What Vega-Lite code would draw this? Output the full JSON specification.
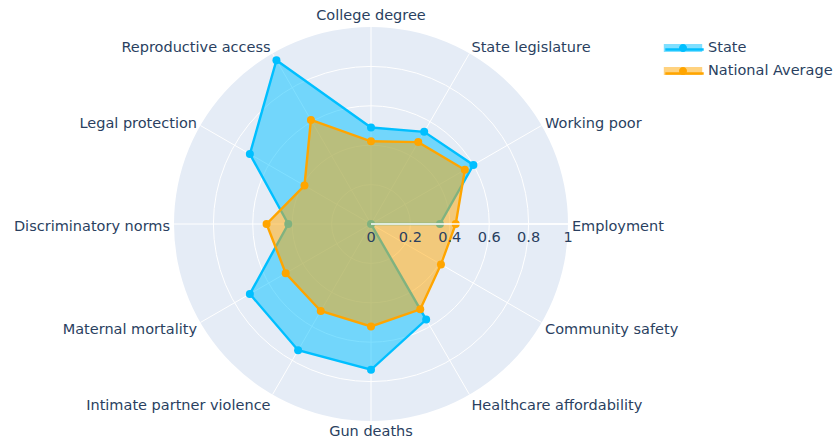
{
  "$schema": "https://vega.github.io/schema/vega-lite/v6.json",
  "width": 438,
  "height": 438,
  "autosize": {"type": "none"},
  "padding": {"left": 152, "top": 5, "right": 245, "bottom": 0},
  "background": "white",
  "config": {"view": {"stroke": null}, "font": "DejaVu Sans"},
  "datasets": {
    "axes": [
      {"axis": "Employment"},
      {"axis": "Working poor"},
      {"axis": "State legislature"},
      {"axis": "College degree"},
      {"axis": "Reproductive access"},
      {"axis": "Legal protection"},
      {"axis": "Discriminatory norms"},
      {"axis": "Maternal mortality"},
      {"axis": "Intimate partner violence"},
      {"axis": "Gun deaths"},
      {"axis": "Healthcare affordability"},
      {"axis": "Community safety"}
    ],
    "scores": [
      {"series": "State", "axis": "Employment", "value": 0.35},
      {"series": "State", "axis": "Working poor", "value": 0.60},
      {"series": "State", "axis": "State legislature", "value": 0.54},
      {"series": "State", "axis": "College degree", "value": 0.49},
      {"series": "State", "axis": "Reproductive access", "value": 0.96},
      {"series": "State", "axis": "Legal protection", "value": 0.71},
      {"series": "State", "axis": "Discriminatory norms", "value": 0.42},
      {"series": "State", "axis": "Maternal mortality", "value": 0.71},
      {"series": "State", "axis": "Intimate partner violence", "value": 0.74},
      {"series": "State", "axis": "Gun deaths", "value": 0.74},
      {"series": "State", "axis": "Healthcare affordability", "value": 0.56},
      {"series": "State", "axis": "Community safety", "value": 0},
      {"series": "National Average", "axis": "Employment", "value": 0.43},
      {"series": "National Average", "axis": "Working poor", "value": 0.55},
      {"series": "National Average", "axis": "State legislature", "value": 0.48},
      {"series": "National Average", "axis": "College degree", "value": 0.42},
      {"series": "National Average", "axis": "Reproductive access", "value": 0.61},
      {"series": "National Average", "axis": "Legal protection", "value": 0.39},
      {"series": "National Average", "axis": "Discriminatory norms", "value": 0.53},
      {"series": "National Average", "axis": "Maternal mortality", "value": 0.50},
      {"series": "National Average", "axis": "Intimate partner violence", "value": 0.51},
      {"series": "National Average", "axis": "Gun deaths", "value": 0.52},
      {"series": "National Average", "axis": "Healthcare affordability", "value": 0.50},
      {"series": "National Average", "axis": "Community safety", "value": 0.41}
    ],
    "disc": [{"r": 1}],
    "grid": [{"r": 0.2}, {"r": 0.4}, {"r": 0.6}, {"r": 0.8}],
    "rticks": [
      {"t": 0, "label": "0"},
      {"t": 0.2, "label": "0.2"},
      {"t": 0.4, "label": "0.4"},
      {"t": 0.6, "label": "0.6"},
      {"t": 0.8, "label": "0.8"},
      {"t": 1, "label": "1"}
    ]
  },
  "layer": [
    {
      "data": {"name": "disc"},
      "transform": [{"calculate": "1", "as": "full"}],
      "mark": {"type": "arc", "fill": "#E5ECF6"},
      "encoding": {
        "theta": {"field": "full", "type": "quantitative", "stack": null, "scale": {"type": "linear", "domain": [0, 1], "range": [0, 6.2832], "zero": true, "nice": false}, "legend": null},
        "radius": {"field": "r", "type": "quantitative", "scale": {"type": "linear", "domain": [0, 1], "range": [0, 197], "zero": true, "nice": false}, "legend": null}
      }
    },
    {
      "data": {"name": "grid"},
      "transform": [{"calculate": "1", "as": "full"}],
      "mark": {"type": "arc", "filled": false, "stroke": "white", "strokeWidth": 1},
      "encoding": {
        "theta": {"field": "full", "type": "quantitative", "stack": null, "scale": {"type": "linear", "domain": [0, 1], "range": [0, 6.2832], "zero": true, "nice": false}, "legend": null},
        "radius": {"field": "r", "type": "quantitative", "scale": {"type": "linear", "domain": [0, 1], "range": [0, 197], "zero": true, "nice": false}, "legend": null}
      }
    },
    {
      "data": {"name": "axes"},
      "transform": [
        {"window": [{"op": "row_number", "as": "idx"}]},
        {"calculate": "(datum.idx - 1) * PI / 6", "as": "ang"},
        {"calculate": "cos(datum.ang)", "as": "cx"},
        {"calculate": "sin(datum.ang)", "as": "cy"},
        {"calculate": "0", "as": "o"}
      ],
      "mark": {"type": "rule", "color": "white", "strokeWidth": 1},
      "encoding": {
        "x": {"field": "o", "type": "quantitative", "scale": {"domain": [-1.11168, 1.11168], "nice": false, "zero": false}, "axis": null},
        "y": {"field": "o", "type": "quantitative", "scale": {"domain": [-1.11168, 1.11168], "nice": false, "zero": false}, "axis": null},
        "x2": {"field": "cx"},
        "y2": {"field": "cy"}
      }
    },
    {
      "data": {"name": "scores"},
      "transform": [
        {"filter": "datum.series == 'State'"},
        {"window": [{"op": "row_number", "as": "idx"}]},
        {"calculate": "(datum.idx - 1) * PI / 6", "as": "ang"},
        {"calculate": "datum.value * cos(datum.ang)", "as": "px"},
        {"calculate": "datum.value * sin(datum.ang)", "as": "py"}
      ],
      "mark": {"type": "line", "interpolate": "linear-closed", "strokeWidth": 2.4, "fillOpacity": 0.5},
      "encoding": {
        "x": {"field": "px", "type": "quantitative", "scale": {"domain": [-1.11168, 1.11168], "nice": false, "zero": false}, "axis": null},
        "y": {"field": "py", "type": "quantitative", "scale": {"domain": [-1.11168, 1.11168], "nice": false, "zero": false}, "axis": null},
        "order": {"field": "idx", "type": "quantitative"},
        "stroke": {"field": "series", "type": "nominal", "scale": {"domain": ["State", "National Average", "_s"], "range": ["#00BFFF", "#FFA500", "#000000"]},
          "legend": {"title": null, "values": ["State", "National Average"], "orient": "none", "legendX": 523, "legendY": 35, "padding": 0, "symbolType": "M-2.4,0H2.4", "symbolSize": 256, "symbolStrokeWidth": 2.4, "labelExpr": "''", "labelFont": "DejaVu Sans", "labelFontSize": 14.5, "labelOffset": 17, "rowPadding": 8}},
        "fill": {"field": "series", "type": "nominal", "scale": {"domain": ["State", "National Average"], "range": ["#00BFFF", "#FFA500"]},
          "legend": {"title": null, "values": ["State", "National Average"], "orient": "none", "legendX": 523, "legendY": 35, "padding": 0, "symbolType": "M-2.4,-0.5H2.4V0.5H-2.4Z", "symbolSize": 256, "symbolOpacity": 0.5, "symbolStrokeWidth": 0, "labelFont": "DejaVu Sans", "labelFontSize": 14.5, "labelColor": "#2a3f5f", "labelOffset": 17, "rowPadding": 8}}
      }
    },
    {
      "data": {"name": "scores"},
      "transform": [
        {"filter": "datum.series == 'State'"},
        {"window": [{"op": "row_number", "as": "idx"}]},
        {"calculate": "(datum.idx - 1) * PI / 6", "as": "ang"},
        {"calculate": "datum.value * cos(datum.ang)", "as": "px"},
        {"calculate": "datum.value * sin(datum.ang)", "as": "py"}
      ],
      "mark": {"type": "point", "filled": true, "size": 64, "opacity": 1},
      "encoding": {
        "x": {"field": "px", "type": "quantitative", "scale": {"domain": [-1.11168, 1.11168], "nice": false, "zero": false}, "axis": null},
        "y": {"field": "py", "type": "quantitative", "scale": {"domain": [-1.11168, 1.11168], "nice": false, "zero": false}, "axis": null},
        "color": {"field": "series", "type": "nominal", "scale": {"domain": ["State", "National Average", "_s", "_c"], "range": ["#00BFFF", "#FFA500", "#000000", "#000000"]},
          "legend": {"title": null, "values": ["State", "National Average"], "orient": "none", "legendX": 523, "legendY": 35, "padding": 0, "symbolType": "M-0.5,0A0.5,0.5,0,1,1,0.5,0A0.5,0.5,0,1,1,-0.5,0Z", "symbolSize": 256, "symbolOpacity": 1, "symbolStrokeWidth": 0, "labelExpr": "''", "labelFont": "DejaVu Sans", "labelFontSize": 14.5, "labelOffset": 17, "rowPadding": 8}}
      }
    },
    {
      "data": {"name": "scores"},
      "transform": [
        {"filter": "datum.series == 'National Average'"},
        {"window": [{"op": "row_number", "as": "idx"}]},
        {"calculate": "(datum.idx - 1) * PI / 6", "as": "ang"},
        {"calculate": "datum.value * cos(datum.ang)", "as": "px"},
        {"calculate": "datum.value * sin(datum.ang)", "as": "py"}
      ],
      "mark": {"type": "line", "interpolate": "linear-closed", "strokeWidth": 2.4, "fillOpacity": 0.5},
      "encoding": {
        "x": {"field": "px", "type": "quantitative", "scale": {"domain": [-1.11168, 1.11168], "nice": false, "zero": false}, "axis": null},
        "y": {"field": "py", "type": "quantitative", "scale": {"domain": [-1.11168, 1.11168], "nice": false, "zero": false}, "axis": null},
        "order": {"field": "idx", "type": "quantitative"},
        "stroke": {"field": "series", "type": "nominal"},
        "fill": {"field": "series", "type": "nominal"}
      }
    },
    {
      "data": {"name": "scores"},
      "transform": [
        {"filter": "datum.series == 'National Average'"},
        {"window": [{"op": "row_number", "as": "idx"}]},
        {"calculate": "(datum.idx - 1) * PI / 6", "as": "ang"},
        {"calculate": "datum.value * cos(datum.ang)", "as": "px"},
        {"calculate": "datum.value * sin(datum.ang)", "as": "py"}
      ],
      "mark": {"type": "point", "filled": true, "size": 64, "opacity": 1},
      "encoding": {
        "x": {"field": "px", "type": "quantitative", "scale": {"domain": [-1.11168, 1.11168], "nice": false, "zero": false}, "axis": null},
        "y": {"field": "py", "type": "quantitative", "scale": {"domain": [-1.11168, 1.11168], "nice": false, "zero": false}, "axis": null},
        "color": {"field": "series", "type": "nominal"}
      }
    },
    {
      "data": {"name": "rticks"},
      "transform": [{"filter": "datum.t == 1"}, {"calculate": "0", "as": "o"}],
      "mark": {"type": "rule", "color": "white", "strokeWidth": 1.5},
      "encoding": {
        "x": {"field": "o", "type": "quantitative", "scale": {"domain": [-1.11168, 1.11168], "nice": false, "zero": false}, "axis": null},
        "y": {"field": "o", "type": "quantitative", "scale": {"domain": [-1.11168, 1.11168], "nice": false, "zero": false}, "axis": null},
        "x2": {"field": "t"}
      }
    },
    {
      "data": {"name": "rticks"},
      "transform": [{"calculate": "0", "as": "o"}],
      "mark": {"type": "text", "dy": 14, "fontSize": 14.5, "color": "#2a3f5f", "font": "DejaVu Sans", "align": "center", "baseline": "middle"},
      "encoding": {
        "x": {"field": "t", "type": "quantitative", "scale": {"domain": [-1.11168, 1.11168], "nice": false, "zero": false}, "axis": null},
        "y": {"field": "o", "type": "quantitative", "scale": {"domain": [-1.11168, 1.11168], "nice": false, "zero": false}, "axis": null},
        "text": {"field": "label"}
      }
    },
    {
      "data": {"name": "axes"},
      "transform": [
        {"window": [{"op": "row_number", "as": "idx"}]},
        {"calculate": "(datum.idx - 1) * PI / 6", "as": "ang"},
        {"calculate": "cos(datum.ang)", "as": "cx"},
        {"calculate": "sin(datum.ang)", "as": "cy"},
        {"filter": "datum.cx > 0.1"},
        {"calculate": "datum.cx * 1.02", "as": "lx"},
        {"calculate": "datum.cy * 1.05", "as": "ly"}
      ],
      "mark": {"type": "text", "align": "left", "baseline": "middle", "dy": 3, "fontSize": 14.5, "color": "#2a3f5f", "font": "DejaVu Sans"},
      "encoding": {
        "x": {"field": "lx", "type": "quantitative", "scale": {"domain": [-1.11168, 1.11168], "nice": false, "zero": false}, "axis": null},
        "y": {"field": "ly", "type": "quantitative", "scale": {"domain": [-1.11168, 1.11168], "nice": false, "zero": false}, "axis": null},
        "text": {"field": "axis"}
      }
    },
    {
      "data": {"name": "axes"},
      "transform": [
        {"window": [{"op": "row_number", "as": "idx"}]},
        {"calculate": "(datum.idx - 1) * PI / 6", "as": "ang"},
        {"calculate": "cos(datum.ang)", "as": "cx"},
        {"calculate": "sin(datum.ang)", "as": "cy"},
        {"filter": "datum.cx < -0.1"},
        {"calculate": "datum.cx * 1.02", "as": "lx"},
        {"calculate": "datum.cy * 1.05", "as": "ly"}
      ],
      "mark": {"type": "text", "align": "right", "baseline": "middle", "dy": 3, "fontSize": 14.5, "color": "#2a3f5f", "font": "DejaVu Sans"},
      "encoding": {
        "x": {"field": "lx", "type": "quantitative", "scale": {"domain": [-1.11168, 1.11168], "nice": false, "zero": false}, "axis": null},
        "y": {"field": "ly", "type": "quantitative", "scale": {"domain": [-1.11168, 1.11168], "nice": false, "zero": false}, "axis": null},
        "text": {"field": "axis"}
      }
    },
    {
      "data": {"name": "axes"},
      "transform": [
        {"window": [{"op": "row_number", "as": "idx"}]},
        {"calculate": "(datum.idx - 1) * PI / 6", "as": "ang"},
        {"calculate": "cos(datum.ang)", "as": "cx"},
        {"calculate": "sin(datum.ang)", "as": "cy"},
        {"filter": "abs(datum.cx) <= 0.1"},
        {"calculate": "datum.cx * 1.02", "as": "lx"},
        {"calculate": "datum.cy * 1.055", "as": "ly"}
      ],
      "mark": {"type": "text", "align": "center", "baseline": "middle", "fontSize": 14.5, "color": "#2a3f5f", "font": "DejaVu Sans"},
      "encoding": {
        "x": {"field": "lx", "type": "quantitative", "scale": {"domain": [-1.11168, 1.11168], "nice": false, "zero": false}, "axis": null},
        "y": {"field": "ly", "type": "quantitative", "scale": {"domain": [-1.11168, 1.11168], "nice": false, "zero": false}, "axis": null},
        "text": {"field": "axis"}
      }
    }
  ]
}
